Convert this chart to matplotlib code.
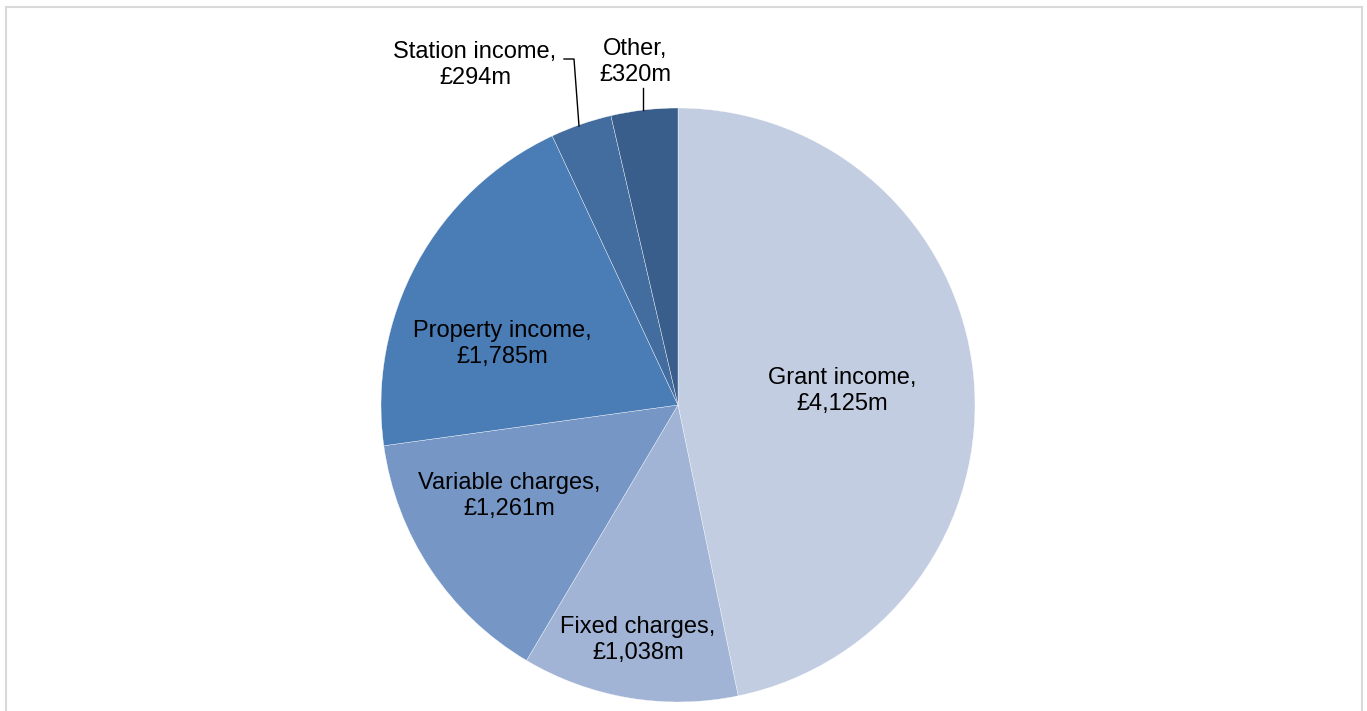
import matplotlib.pyplot as plt
from matplotlib.patches import Rectangle

plt.rcParams["font.family"] = ["Liberation Sans", "DejaVu Sans"]

W, H = 1367, 711

categories = ["Grant income", "Fixed charges", "Variable charges",
              "Property income", "Station income", "Other"]
values = [4125, 1038, 1261, 1785, 294, 320]
colors = ["#c2cde2", "#a2b4d6", "#7696c6", "#4a7cb6", "#436c9f", "#395e8b"]

# label centres in pixel coords (from top-left)
label_pos = [(842, 391), (638, 640), (509, 496), (502, 344), (475, 65), (635, 62)]

fig = plt.figure(figsize=(W / 100, H / 100), dpi=100)
ax = fig.add_axes([0, 0, 1, 1])

cx, cy, r = 678, 405, 297
ax.pie(values, colors=colors, startangle=90, counterclock=False,
       center=(cx, H - cy), radius=r, frame=True,
       wedgeprops=dict(edgecolor="white", linewidth=0.25))
ax.set_xlim(0, W)
ax.set_ylim(0, H)
ax.set_aspect("equal")
ax.axis("off")

for name, val, (x, y) in zip(categories, values, label_pos):
    ax.text(x, H - y, f"{name},\n£{val:,}m", ha="center", va="center",
            fontsize=17, color="black", linespacing=1.2)

# leader lines for the two small slices
ax.plot([564, 574, 579], [H - 59, H - 59, H - 126], color="black", lw=1)
ax.plot([643, 643], [H - 88, H - 110], color="black", lw=1)

# chart area border (bottom edge sits outside the image)
fig.patches.append(Rectangle((6 / W, -0.02), (1362 - 6) / W, (H - 7) / H + 0.02,
                             transform=fig.transFigure, fill=False,
                             edgecolor="#d9d9d9", linewidth=1.5))

fig.savefig("out.png", dpi=100)
